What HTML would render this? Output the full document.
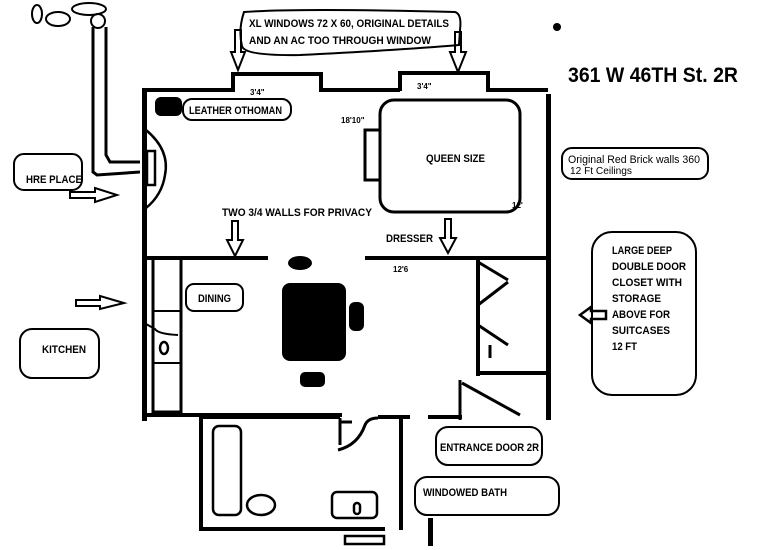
<!DOCTYPE html>
<html><head><style>
html,body{margin:0;padding:0;background:#fff;}
svg{display:block;}
text{font-family:"Liberation Sans",Arial,sans-serif;font-weight:bold;fill:#000;}
</style></head><body>
<svg width="768" height="550" viewBox="0 0 768 550" xmlns="http://www.w3.org/2000/svg">
<g fill="none" stroke="#000" stroke-width="2">
<ellipse cx="37" cy="14" rx="5" ry="9"/>
<ellipse cx="58" cy="19" rx="12" ry="7"/>
<ellipse cx="89" cy="9" rx="17" ry="6"/>
<circle cx="98" cy="21" r="7"/>
<!-- chimney pipe -->
<path d="M93,27 L93,172 L97,175 L140,172 M106,27 L106,155 L110,162 L140,162" stroke-width="3"/>
<rect x="14" y="154" width="68" height="36" rx="10"/>
<path d="M70,192 L95,192 L95,188 L117,195 L95,202 L95,198 L70,198 Z"/>
<path d="M76,300 L100,300 L100,296 L124,303 L100,309 L100,306 L76,306 Z"/>
<path d="M606,311 L591,311 L591,307 L580,315 L591,323 L591,319 L606,319 Z" stroke-width="2.5"/>
<path d="M244,12 Q300,8 455,12 Q462,14 460,30 L459,45 Q400,50 300,55 Q244,56 242,46 Q238,30 244,12 Z"/>
<path d="M235,30 L241,30 L241,52 L245,52 L238,70 L231,52 L235,52 Z"/>
<path d="M455,32 L461,32 L461,52 L466,52 L458,72 L450,52 L455,52 Z"/>
<rect x="183" y="99" width="108" height="21" rx="9"/>
<rect x="562" y="148" width="146" height="31" rx="10"/>
<rect x="380" y="100" width="140" height="112" rx="14" stroke-width="3"/>
<rect x="365" y="130" width="15" height="50" stroke-width="3"/>
<path d="M146,130 Q170,150 165,175 Q162,195 146,208" stroke-width="2.5"/>
<rect x="147" y="151" width="8" height="34" stroke-width="2.5"/>
<path d="M232,221 L238,221 L238,240 L243,240 L235,256 L227,240 L232,240 Z" stroke-width="2"/>
<path d="M445,219 L451,219 L451,238 L456,238 L448,253 L440,238 L445,238 Z" stroke-width="2"/>
<rect x="186" y="284" width="57" height="27" rx="8"/>
<rect x="20" y="329" width="79" height="49" rx="12"/>
<rect x="592" y="232" width="104" height="163" rx="20"/>
<rect x="436" y="427" width="106" height="38" rx="12"/>
<rect x="415" y="477" width="144" height="38" rx="12"/>
<rect x="153" y="258" width="28" height="154" stroke-width="3"/>
<line x1="153" y1="311" x2="181" y2="311" stroke-width="2"/>
<line x1="153" y1="363" x2="181" y2="363" stroke-width="2"/>
<ellipse cx="164" cy="348" rx="4" ry="6" stroke-width="2.5"/>
<path d="M146,324 L155,329 Q158,334 178,335" stroke-width="2"/>
<rect x="213" y="426" width="28" height="89" rx="6" stroke-width="2.5"/>
<ellipse cx="261" cy="505" rx="14" ry="10" stroke-width="2.5"/>
<rect x="332" y="492" width="45" height="26" rx="5" stroke-width="2.5"/>
<rect x="354" y="503" width="6" height="11" rx="3" stroke-width="2.5"/>
<rect x="345" y="536" width="39" height="8" stroke-width="2.5"/>
<path d="M338,450 Q358,445 365,425 Q368,418 378,418" stroke-width="3"/>
<line x1="340" y1="418" x2="340" y2="445" stroke-width="3"/>
<line x1="340" y1="422" x2="352" y2="422" stroke-width="3"/>
<path d="M478,262 L508,280 M478,305 L508,282 M478,325 L508,345 M490,345 L490,358 M478,355 L478,372" stroke-width="3"/>
<path d="M460,380 L460,420 M462,383 L520,415" stroke-width="3"/>
</g>
<g fill="#000">
<rect x="142" y="88" width="5" height="333"/>
<rect x="142" y="88" width="91" height="4"/>
<rect x="231" y="72" width="4" height="20"/>
<rect x="231" y="72" width="90" height="4"/>
<rect x="319" y="72" width="4" height="20"/>
<rect x="319" y="88" width="81" height="4"/>
<rect x="398" y="71" width="4" height="20"/>
<rect x="398" y="71" width="90" height="4"/>
<rect x="486" y="71" width="4" height="20"/>
<rect x="486" y="88" width="62" height="4"/>
<rect x="546" y="94" width="5" height="326"/>
<rect x="142" y="256" width="126" height="4"/>
<rect x="365" y="256" width="183" height="4"/>
<rect x="476" y="258" width="4" height="118"/>
<rect x="476" y="371" width="72" height="4"/>
<rect x="142" y="413" width="200" height="4"/>
<rect x="199" y="415" width="4" height="115"/>
<rect x="199" y="527" width="186" height="4"/>
<rect x="199" y="415" width="141" height="4"/>
<rect x="378" y="415" width="32" height="4"/>
<rect x="428" y="415" width="34" height="4"/>
<rect x="399" y="415" width="4" height="115"/>
<rect x="428" y="518" width="5" height="28"/>
<rect x="155" y="97" width="27" height="19" rx="6"/>
<ellipse cx="300" cy="263" rx="12" ry="7"/>
<rect x="282" y="283" width="64" height="78" rx="8"/>
<rect x="349" y="302" width="15" height="29" rx="6"/>
<rect x="300" y="372" width="25" height="15" rx="5"/>
<circle cx="557" cy="27" r="4"/>
</g>
<g font-size="11">
<text x="249" y="27" textLength="200" lengthAdjust="spacingAndGlyphs">XL WINDOWS 72 X 60, ORIGINAL DETAILS</text>
<text x="249" y="44" textLength="182" lengthAdjust="spacingAndGlyphs">AND AN AC TOO THROUGH WINDOW</text>
<text x="189" y="114" textLength="93" lengthAdjust="spacingAndGlyphs">LEATHER OTHOMAN</text>
<text x="26" y="183" textLength="56" lengthAdjust="spacingAndGlyphs">HRE PLACE</text>
<text x="426" y="162" textLength="59" lengthAdjust="spacingAndGlyphs">QUEEN SIZE</text>
<text x="222" y="216" textLength="150" lengthAdjust="spacingAndGlyphs">TWO 3/4 WALLS FOR PRIVACY</text>
<text x="386" y="242" textLength="47" lengthAdjust="spacingAndGlyphs">DRESSER</text>
<text x="198" y="302" textLength="33" lengthAdjust="spacingAndGlyphs">DINING</text>
<text x="42" y="353" textLength="44" lengthAdjust="spacingAndGlyphs">KITCHEN</text>
<text x="440" y="451" textLength="99" lengthAdjust="spacingAndGlyphs">ENTRANCE DOOR 2R</text>
<text x="423" y="496" textLength="84" lengthAdjust="spacingAndGlyphs">WINDOWED BATH</text>
<text x="612" y="254" textLength="60" lengthAdjust="spacingAndGlyphs">LARGE DEEP</text>
<text x="612" y="270" textLength="74" lengthAdjust="spacingAndGlyphs">DOUBLE DOOR</text>
<text x="612" y="286" textLength="70" lengthAdjust="spacingAndGlyphs">CLOSET WITH</text>
<text x="612" y="302" textLength="49" lengthAdjust="spacingAndGlyphs">STORAGE</text>
<text x="612" y="318" textLength="58" lengthAdjust="spacingAndGlyphs">ABOVE FOR</text>
<text x="612" y="334" textLength="58" lengthAdjust="spacingAndGlyphs">SUITCASES</text>
<text x="612" y="350" textLength="25" lengthAdjust="spacingAndGlyphs">12 FT</text>
</g>
<text x="568" y="163" font-size="11" textLength="132" lengthAdjust="spacingAndGlyphs" style="font-weight:normal">Original Red Brick walls 360</text>
<text x="570" y="174" font-size="10" textLength="62" lengthAdjust="spacingAndGlyphs" style="font-weight:normal">12 Ft Ceilings</text>
<text x="568" y="82" font-size="21" textLength="170" lengthAdjust="spacingAndGlyphs">361 W 46TH St. 2R</text>
<g font-size="8" style="font-weight:normal" fill="#555">
<text x="250" y="95">3'4"</text>
<text x="417" y="89">3'4"</text>
<text x="341" y="123">18'10"</text>
<text x="393" y="272">12'6</text>
<text x="512" y="208">12'</text>
</g>
</svg>
</body></html>
